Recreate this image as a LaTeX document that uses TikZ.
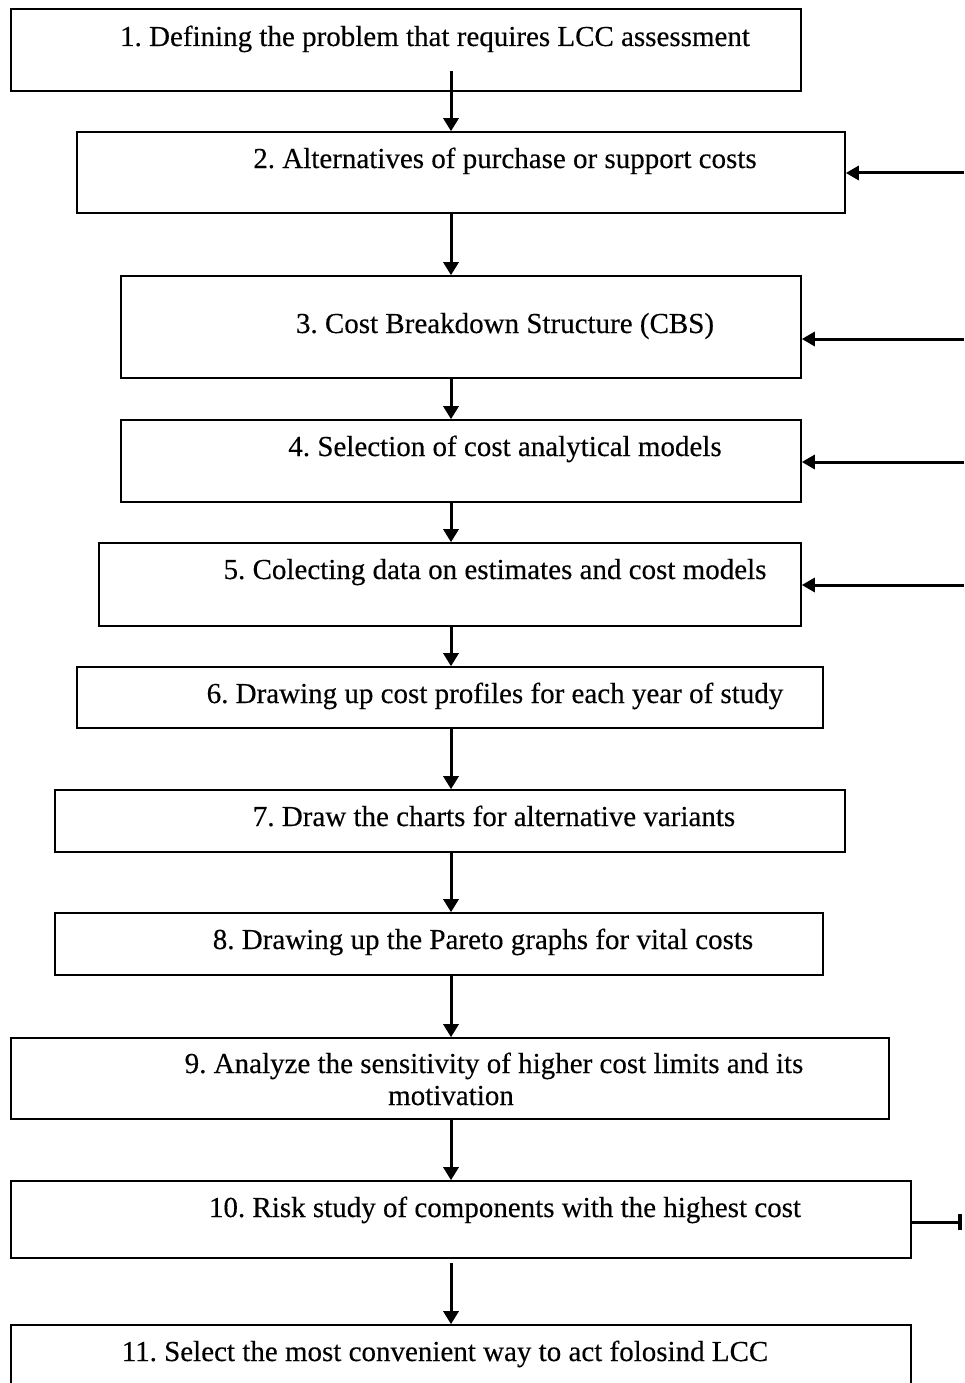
\documentclass[tikz,border=0pt]{standalone}
\usepackage{fontspec}
\setmainfont[FakeBold=0.3]{Liberation Serif}
\frenchspacing
\usetikzlibrary{arrows.meta}
\begin{document}
\begin{tikzpicture}[x=1pt,y=-1pt,
  stepbox/.style={draw, line width=1.6pt, inner sep=0pt},
  lbl/.style={inner sep=0pt, anchor=base, font=\fontsize{29}{32}\selectfont},
  flow/.style={line width=3pt, -{Triangle[length=13pt,width=15pt]}},
  feedin/.style={line width=3pt, -{Triangle[length=13pt,width=14pt]}},
  feedout/.style={line width=3pt, -{Bar[width=16pt,line width=4pt]}},
]
\useasboundingbox (0,0) rectangle (964,1383);
\clip (0,0) rectangle (964,1383);

% step boxes
\node[stepbox, minimum width=790pt, minimum height=82pt] (b1)  at (406,50)    {};
\node[stepbox, minimum width=768pt, minimum height=81pt] (b2)  at (461,172.5) {};
\node[stepbox, minimum width=680pt, minimum height=102pt] (b3) at (461,327)   {};
\node[stepbox, minimum width=680pt, minimum height=82pt] (b4)  at (461,461)   {};
\node[stepbox, minimum width=702pt, minimum height=83pt] (b5)  at (450,584.5) {};
\node[stepbox, minimum width=746pt, minimum height=61pt] (b6)  at (450,697.5) {};
\node[stepbox, minimum width=790pt, minimum height=62pt] (b7)  at (450,821)   {};
\node[stepbox, minimum width=768pt, minimum height=62pt] (b8)  at (439,944)   {};
\node[stepbox, minimum width=878pt, minimum height=81pt] (b9)  at (450,1078.5){};
\node[stepbox, minimum width=900pt, minimum height=77pt] (b10) at (461,1219.5){};
\node[stepbox, minimum width=900pt, minimum height=95pt] (b11) at (461,1372.5){};

% step labels
\node[lbl] (t1)  at (435,46)   {1. Defining the problem that requires LCC assessment};
\node[lbl] (t2)  at (505,168)  {2. Alternatives of purchase or support costs};
\node[lbl] (t3)  at (505,333)  {3. Cost Breakdown Structure (CBS)};
\node[lbl] (t4)  at (505,456)  {4. Selection of cost analytical models};
\node[lbl] (t5)  at (495,579)  {5. Colecting data on estimates and cost models};
\node[lbl] (t6)  at (495,703)  {6. Drawing up cost profiles for each year of study};
\node[lbl] (t7)  at (494,826)  {7. Draw the charts for alternative variants};
\node[lbl] (t8)  at (483,949)  {8. Drawing up the Pareto graphs for vital costs};
\node[lbl] (t9a) at (494,1073) {9. Analyze the sensitivity of higher cost limits and its};
\node[lbl] (t9b) at (451,1105) {motivation};
\node[lbl] (t10) at (505,1217) {10. Risk study of components with the highest cost};
\node[lbl] (t11) at (445,1361) {11. Select the most convenient way to act folosind LCC};

% main flow axis and side feed points
\coordinate (axis) at (451,0);
\coordinate (r2)  at (964,173);
\coordinate (r3)  at (964,339);
\coordinate (r4)  at (964,462);
\coordinate (r5)  at (964,585);
\coordinate (r10) at (962,1222);

% downward flow
\draw[flow] ([yshift=21pt]b1.south -| axis) -- (b2.north -| axis);
\draw[flow] (b2.south -| axis) -- (b3.north -| axis);
\draw[flow] (b3.south -| axis) -- (b4.north -| axis);
\draw[flow] (b4.south -| axis) -- (b5.north -| axis);
\draw[flow] (b5.south -| axis) -- (b6.north -| axis);
\draw[flow] (b6.south -| axis) -- (b7.north -| axis);
\draw[flow] (b7.south -| axis) -- (b8.north -| axis);
\draw[flow] (b8.south -| axis) -- (b9.north -| axis);
\draw[flow] (b9.south -| axis) -- (b10.north -| axis);
\draw[flow] ([yshift=-4pt]b10.south -| axis) -- (b11.north -| axis);

% side inputs and output
\draw[feedin] (r2) -- (b2.east |- r2);
\draw[feedin] (r3) -- (b3.east |- r3);
\draw[feedin] (r4) -- (b4.east |- r4);
\draw[feedin] (r5) -- (b5.east |- r5);
\draw[feedout] (b10.east |- r10) -- (r10);
\end{tikzpicture}
\end{document}
